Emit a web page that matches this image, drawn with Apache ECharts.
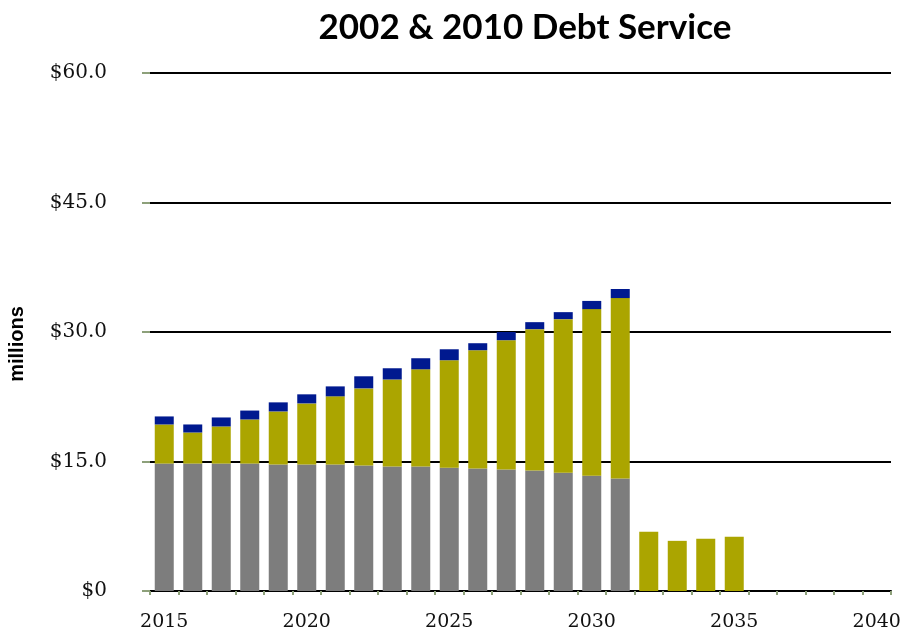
<!DOCTYPE html>
<html>
<head>
<meta charset="utf-8">
<script src="https://cdn.jsdelivr.net/npm/echarts@6/dist/echarts.min.js"></script>
<style>
  html, body { margin: 0; padding: 0; background: #fff; }
  #chart { width: 905px; height: 637px; }
</style>
</head>
<body>
<div id="chart"></div>
<script>
// Fiscal years shown on the category axis
const years = [];
for (let y = 2015; y <= 2040; y++) years.push(String(y));

// Debt service by issue, $ millions
const series2002 = [14.76, 14.76, 14.76, 14.76, 14.64, 14.64, 14.64, 14.53, 14.41, 14.41, 14.29, 14.18, 14.06, 13.95, 13.71, 13.36, 13.02,
  0, 0, 0, 0, 0, 0, 0, 0, 0];
const series2010 = [4.53, 3.60, 4.30, 5.11, 6.16, 7.09, 7.91, 8.94, 10.09, 11.27, 12.44, 13.71, 14.99, 16.38, 17.78, 19.29, 20.91,
  6.86, 5.81, 6.04, 6.28, 0, 0, 0, 0, 0];
const seriesOther = [0.93, 0.93, 1.04, 1.03, 1.05, 1.05, 1.15, 1.40, 1.30, 1.28, 1.27, 0.81, 0.95, 0.81, 0.81, 0.95, 1.05,
  0, 0, 0, 0, 0, 0, 0, 0, 0];

// Value axis ticks
const yTicks = [0, 15, 30, 45, 60];

const labelFont = '"DejaVu Serif", serif';
const tickGreen = '#8da07a';

const chart = echarts.init(document.getElementById('chart'));
chart.setOption({
  animation: false,
  title: {
    text: '2002 & 2010 Debt Service',
    left: 520,
    textAlign: 'center',
    top: 5,
    textStyle: { fontFamily: 'Lato, sans-serif', fontWeight: 'bold', fontSize: 35, color: '#000' }
  },
  grid: { left: 150, right: 14, top: 73, bottom: 46, containLabel: false, outerBoundsMode: 'none' },
  xAxis: {
    type: 'category',
    data: years,
    boundaryGap: true,
    axisLine: { show: true, lineStyle: { color: '#000', width: 2 } },
    axisTick: { show: true, interval: 0, length: 4, lineStyle: { color: tickGreen, width: 2 } },
    axisLabel: {
      interval: 4,
      margin: 22,
      fontFamily: labelFont,
      fontSize: 19,
      color: '#111'
    }
  },
  yAxis: {
    type: 'value',
    min: yTicks[0],
    max: yTicks[yTicks.length - 1],
    interval: 15,
    name: 'millions',
    nameLocation: 'middle',
    nameGap: 123,
    nameRotate: 90,
    nameTextStyle: {
      fontFamily: '"Liberation Sans", Arial, sans-serif',
      fontWeight: 'bold',
      fontSize: 20,
      color: '#000',
      padding: [0, 24, 0, 0]
    },
    axisLine: { show: false },
    axisTick: { show: true, length: 8, lineStyle: { color: tickGreen, width: 2 } },
    splitLine: { show: true, lineStyle: { color: '#000', width: 2 } },
    axisLabel: {
      margin: 43,
      fontFamily: labelFont,
      fontSize: 20,
      color: '#111',
      formatter: v => v === 0 ? '$0' : '$' + v.toFixed(1)
    }
  },
  series: [
    { name: '2002', type: 'bar', stack: 'ds', data: series2002, barWidth: 19, itemStyle: { color: '#7d7d7d' } },
    { name: '2010', type: 'bar', stack: 'ds', data: series2010, barWidth: 19, itemStyle: { color: '#aba500' } },
    { name: 'Other', type: 'bar', stack: 'ds', data: seriesOther, barWidth: 19, itemStyle: { color: '#00198f' } }
  ]
});
</script>
</body>
</html>
